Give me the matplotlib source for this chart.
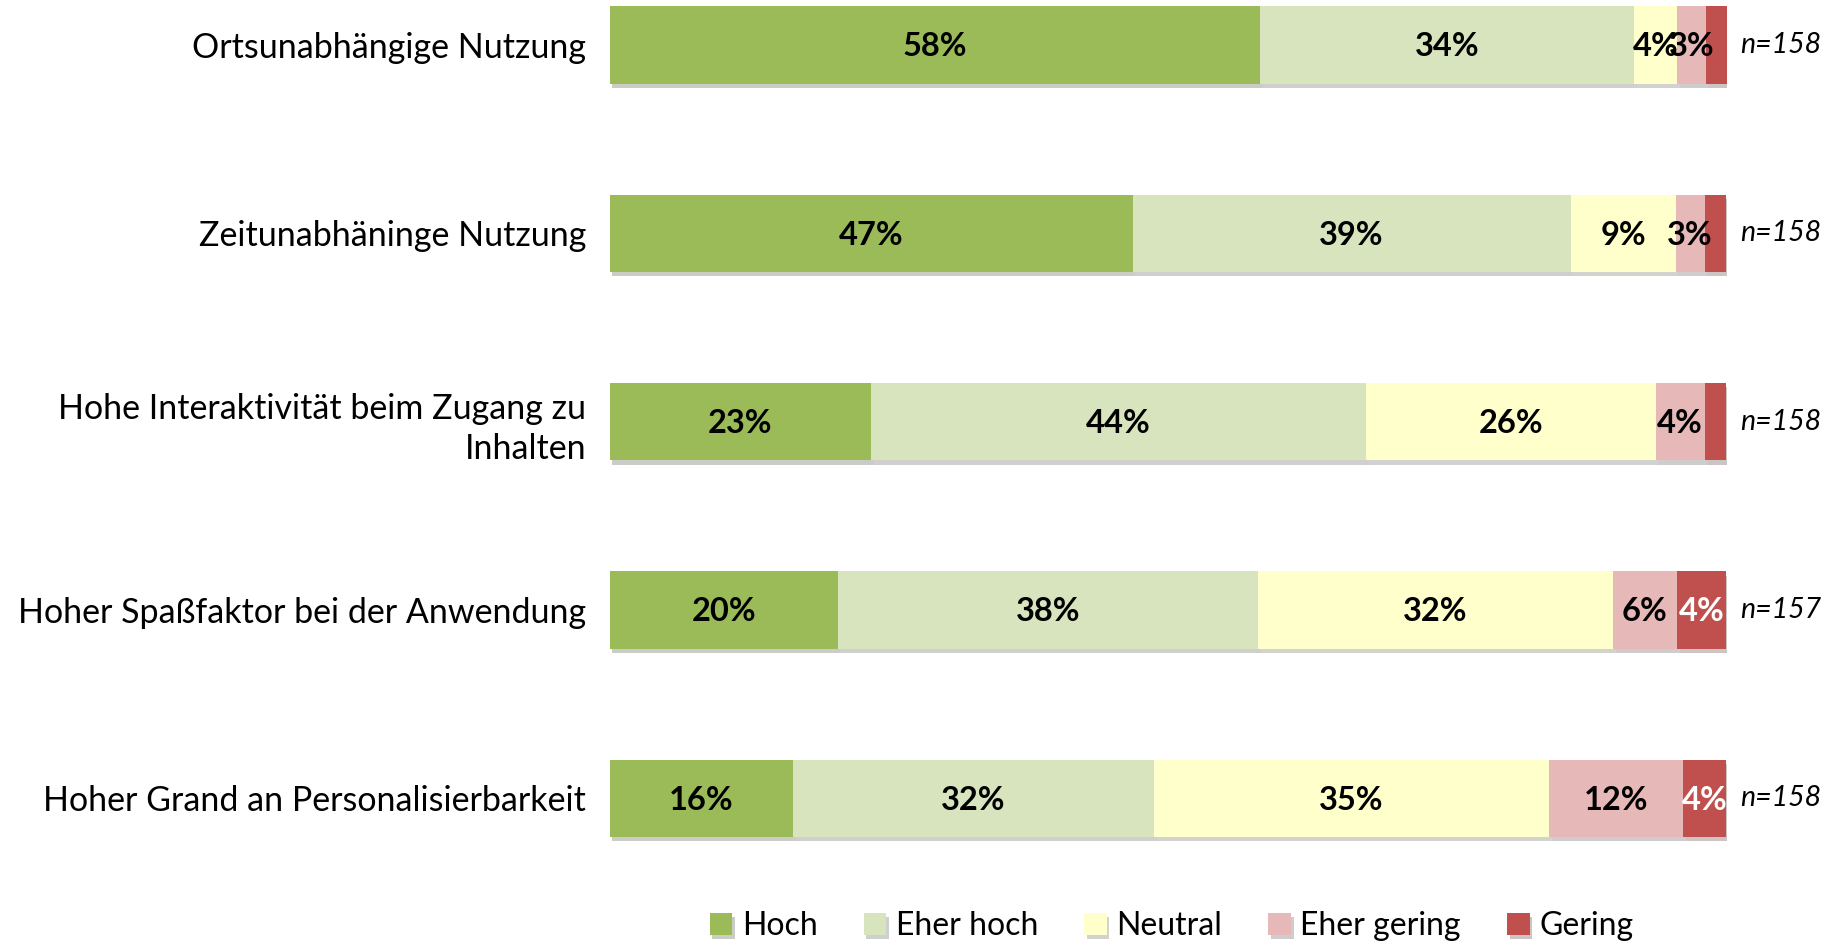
import matplotlib
matplotlib.use("Agg")
import matplotlib.pyplot as plt
import matplotlib.patheffects as pe
import numpy as np

plt.rcParams['font.family'] = ['Lato', 'DejaVu Sans']

# data (percent of respondents)
categories = [
    "Ortsunabhängige Nutzung",
    "Zeitunabhäninge Nutzung",
    "Hohe Interaktivität beim Zugang zu\nInhalten",
    "Hoher Spaßfaktor bei der Anwendung",
    "Hoher Grand an Personalisierbarkeit",
]
series_names = ["Hoch", "Eher hoch", "Neutral", "Eher gering", "Gering"]
hoch = [58.2, 46.8, 23.4, 20.4, 16.4]
eher_hoch = [33.5, 39.2, 44.3, 37.6, 32.3]
neutral = [3.8, 9.4, 25.9, 31.8, 35.4]
eher_gering = [2.6, 2.6, 4.4, 5.7, 12.0]
gering = [1.9, 1.9, 1.9, 4.4, 3.8]
n_labels = ["n=158", "n=158", "n=158", "n=157", "n=158"]

colors = ["#9BBB59", "#D7E4BD", "#FFFFCC", "#E6B9B8", "#C0504D"]
text_colors = ["black", "black", "black", "black", "white"]

fig = plt.figure(figsize=(18.42, 9.43), dpi=100)
ax = fig.add_axes([0.331, 0.0774, 0.6066, 0.9226])

y = np.arange(len(categories))
left = np.zeros(len(categories))
shadow = [pe.SimplePatchShadow(offset=(2, -3), alpha=0.25), pe.Normal()]
for vals, name, col, tcol in zip([hoch, eher_hoch, neutral, eher_gering, gering],
                                  series_names, colors, text_colors):
    vals = np.array(vals)
    bars = ax.barh(y, vals, left=left, height=0.41, color=col, label=name,
                   edgecolor="none")
    for b in bars:
        b.set_path_effects(shadow)
    # segments under 2.5 % carry no label
    for yi, l, v in zip(y, left, vals):
        if v >= 2.5:
            ax.text(l + v / 2, yi + 0.01, f"{int(v + 0.5)}%", ha="center", va="center",
                    fontsize=23.5, fontweight="bold", color=tcol)
    left += vals

for yi, t in zip(y, n_labels):
    ax.text(101.2, yi, t, ha="left", va="center", fontsize=20.5, style="italic")

ax.set_xlim(0, 100)
ax.set_ylim(4.38, -0.239)
ax.set_yticks(y)
ax.set_yticklabels(categories, fontsize=24.5, linespacing=1.3)
ax.tick_params(axis="y", length=0, pad=17)
ax.set_xticks([])
for s in ax.spines.values():
    s.set_visible(False)

fig.legend(loc="center", bbox_to_anchor=(0.636, 0.018), ncol=5, frameon=False,
           fontsize=23, handlelength=0.7, handleheight=0.7, handletextpad=0.3,
           columnspacing=1.45)

fig.savefig("out.png", dpi=100)
